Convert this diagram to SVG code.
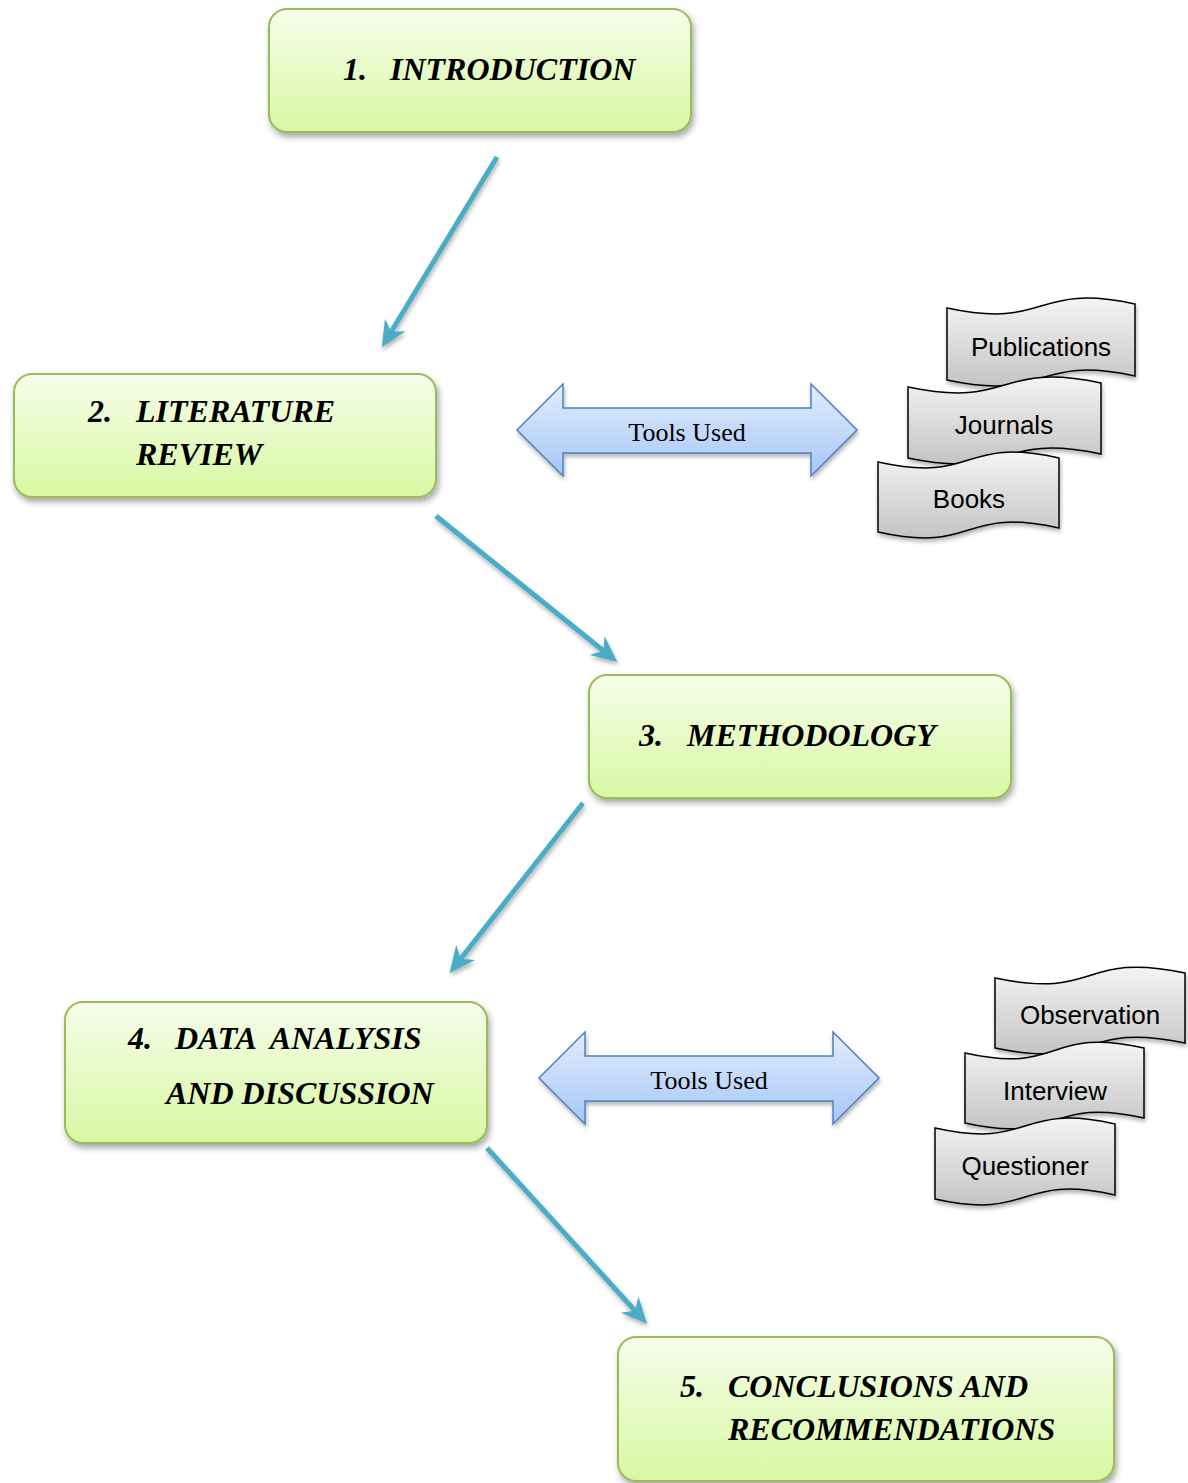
<svg xmlns="http://www.w3.org/2000/svg" width="1188" height="1483" viewBox="0 0 1188 1483">
<defs>
<linearGradient id="gGreen" x1="0" y1="0" x2="0" y2="1">
<stop offset="0" stop-color="#f6fdeb"/>
<stop offset="1" stop-color="#d8f8a2"/>
</linearGradient>
<linearGradient id="gBlue" x1="0" y1="0" x2="0" y2="1">
<stop offset="0" stop-color="#e2edfd"/>
<stop offset="1" stop-color="#a6c6f6"/>
</linearGradient>
<linearGradient id="gGray" x1="0" y1="0" x2="0" y2="1">
<stop offset="0" stop-color="#f4f4f4"/>
<stop offset="1" stop-color="#c4c4c4"/>
</linearGradient>
<filter id="shadow" x="-10%" y="-10%" width="125%" height="130%">
<feDropShadow dx="2" dy="4" stdDeviation="3" flood-color="#000" flood-opacity="0.35"/>
</filter>
<filter id="shadowS" x="-10%" y="-10%" width="125%" height="130%">
<feDropShadow dx="1" dy="3" stdDeviation="2" flood-color="#000" flood-opacity="0.3"/>
</filter>
<marker id="ah" viewBox="-16 -14 30 28" markerUnits="userSpaceOnUse" markerWidth="30" markerHeight="28" refX="0" refY="0" orient="auto">
<path d="M12,0 L-14,-12 L-6,0 L-14,12 Z" fill="#4bacc6"/>
</marker>
<style>
.box{fill:url(#gGreen);stroke:#9bbb59;stroke-width:2;filter:url(#shadow)}
.bt{font-family:"Liberation Serif","Times New Roman",serif;font-weight:bold;font-style:italic;font-size:32px;fill:#000}
.dbl{fill:url(#gBlue);stroke:#4f81bd;stroke-width:1.5;filter:url(#shadowS)}
.tu{font-family:"Liberation Serif","Times New Roman",serif;font-size:26px;fill:#000;text-anchor:middle}
.wave{fill:url(#gGray);stroke:#000;stroke-width:1.5;filter:url(#shadowS)}
.wt{font-family:"Liberation Sans",Arial,sans-serif;font-size:26px;fill:#000;text-anchor:middle}
.conn{stroke:#4bacc6;stroke-width:5;fill:none;marker-end:url(#ah);filter:url(#shadowS)}
</style>
</defs>
<rect width="1188" height="1483" fill="#fff"/>

<g id="connectors">
<line class="conn" x1="497" y1="157" x2="388" y2="337"/>
<line class="conn" x1="436" y1="516" x2="608" y2="654.5"/>
<line class="conn" x1="583" y1="803" x2="457" y2="963.5"/>
<line class="conn" x1="487" y1="1148" x2="639" y2="1315"/>
</g>

<g id="n1">
<rect class="box" x="269" y="9" width="422" height="123" rx="18"/>
<text class="bt" x="343" y="80">1.</text>
<text class="bt" x="390" y="80">INTRODUCTION</text>
</g>

<g id="n2">
<rect class="box" x="14" y="374" width="422" height="123" rx="18"/>
<text class="bt" x="88" y="422">2.</text>
<text class="bt" x="136" y="422">LITERATURE</text>
<text class="bt" x="136" y="465">REVIEW</text>
</g>

<g id="n3">
<rect class="box" x="589" y="675" width="422" height="123" rx="18"/>
<text class="bt" x="639" y="746">3.</text>
<text class="bt" x="687" y="746">METHODOLOGY</text>
</g>

<g id="n4">
<rect class="box" x="65" y="1002" width="422" height="141" rx="18"/>
<text class="bt" x="128" y="1049">4.</text>
<text class="bt" x="175" y="1049" word-spacing="8">DATA ANALYSIS</text>
<text class="bt" x="166" y="1104">AND DISCUSSION</text>
</g>

<g id="n5">
<rect class="box" x="618" y="1337" width="496" height="144" rx="18"/>
<text class="bt" x="680" y="1397">5.</text>
<text class="bt" x="728" y="1397">CONCLUSIONS AND</text>
<text class="bt" x="728" y="1440">RECOMMENDATIONS</text>
</g>

<g id="tools1">
<path class="dbl" d="M517,430 L563,384 L563,408 L811,408 L811,384 L857,430 L811,476 L811,453 L563,453 L563,476 Z"/>
<text class="tu" x="687" y="441">Tools Used</text>
</g>

<g id="tools2">
<path class="dbl" d="M539,1078 L585,1032 L585,1056 L833,1056 L833,1032 L879,1078 L833,1124 L833,1101 L585,1101 L585,1124 Z"/>
<text class="tu" x="709" y="1089">Tools Used</text>
</g>

<g id="publications">
<path class="wave" d="M947,308 C1050,330 1032,282 1135,304 L1135,376 C1032,354 1050,402 947,380 Z"/>
<text class="wt" x="1041" y="356">Publications</text>
</g>
<g id="journals">
<path class="wave" d="M908,387 C1014,409 995,361 1101,383 L1101,454 C995,432 1014,480 908,458 Z"/>
<text class="wt" x="1004" y="434">Journals</text>
</g>
<g id="books">
<path class="wave" d="M878,462 C978,484 959,436 1059,458 L1059,528 C959,506 978,554 878,532 Z"/>
<text class="wt" x="969" y="508">Books</text>
</g>

<g id="observation">
<path class="wave" d="M995,978 C1100,1000 1080,951 1185,973 L1185,1043 C1080,1021 1100,1070 995,1048 Z"/>
<text class="wt" x="1090" y="1024">Observation</text>
</g>
<g id="interview">
<path class="wave" d="M965,1053 C1063,1075 1046,1026 1144,1048 L1144,1118 C1046,1096 1063,1145 965,1123 Z"/>
<text class="wt" x="1055" y="1100">Interview</text>
</g>
<g id="questioner">
<path class="wave" d="M935,1128 C1034,1150 1016,1102 1115,1124 L1115,1195 C1016,1173 1034,1221 935,1199 Z"/>
<text class="wt" x="1025" y="1175">Questioner</text>
</g>
</svg>
